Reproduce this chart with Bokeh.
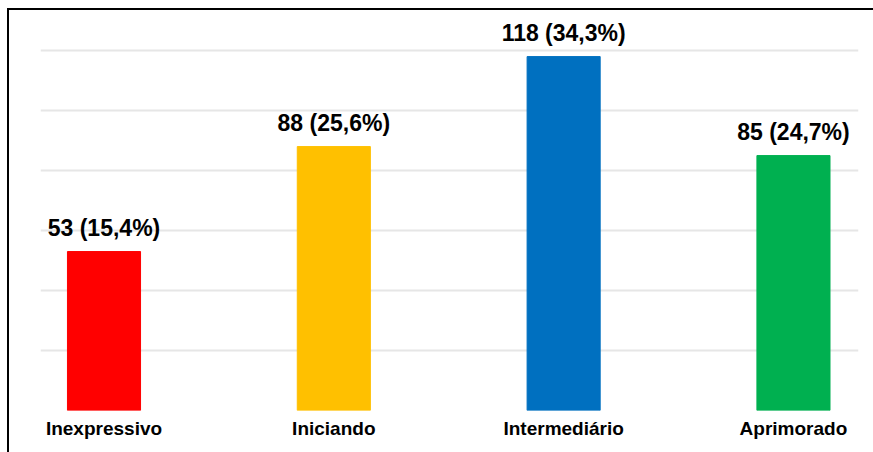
from bokeh.plotting import figure
from bokeh.models import ColumnDataSource, Range1d, FixedTicker, LabelSet
from bokeh.core.properties import value
from bokeh.embed import file_html
from bokeh.resources import INLINE

categories = ["Inexpressivo", "Iniciando", "Intermediário", "Aprimorado"]
counts = [53, 88, 118, 85]
percents = ["15,4", "25,6", "34,3", "24,7"]
colors = ["#FF0000", "#FFC000", "#0070C0", "#00B050"]
grid_ticks = [0, 20, 40, 60, 80, 100, 120]

xs = list(range(len(categories)))
labels = [f"{c} ({p}%)" for c, p in zip(counts, percents)]
src = ColumnDataSource(dict(x=xs, top=counts, color=colors, label=labels))

p = figure(width=866, height=444, output_backend="svg", toolbar_location=None,
           x_range=Range1d(-0.2763, 3.283), y_range=Range1d(0, 132.7),
           min_border_left=31, min_border_right=17, min_border_top=2, min_border_bottom=44,
           styles={"margin-left": "7px", "margin-top": "8px",
                   "border-left": "2px solid black", "border-top": "2px solid black"})
p.outline_line_color = None
p.background_fill_color = "white"
p.border_fill_color = "white"

p.vbar(x="x", top="top", width=0.318, bottom=0, color="color", source=src)

p.add_layout(LabelSet(x="x", y="top", text="label", source=src, text_align="center",
                      text_baseline="alphabetic", y_offset=16, text_font=value("Liberation Sans"),
                      text_font_style="bold", text_font_size="23px", text_color="#000000"))

p.yaxis.visible = False
p.ygrid.ticker = FixedTicker(ticks=grid_ticks)
p.ygrid.grid_line_color = "#e6e6e6"
p.ygrid.grid_line_width = 2
p.xgrid.visible = False

p.xaxis.ticker = FixedTicker(ticks=xs)
p.xaxis.major_label_overrides = {i: c for i, c in zip(xs, categories)}
p.xaxis.axis_line_color = None
p.xaxis.major_tick_line_color = None
p.xaxis.minor_tick_line_color = None
p.xaxis.major_label_standoff = 1
p.xaxis.major_label_text_font = "Liberation Sans"
p.xaxis.major_label_text_font_style = "bold"
p.xaxis.major_label_text_font_size = "19px"
p.xaxis.major_label_text_color = "#000000"

open("out.html", "w").write(file_html(p, INLINE))
